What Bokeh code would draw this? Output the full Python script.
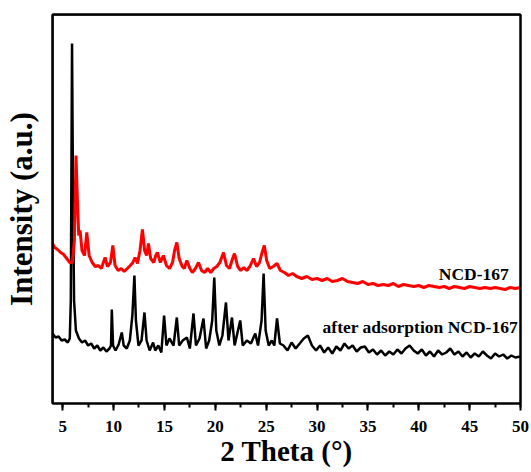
from bokeh.plotting import figure
from bokeh.models import Range1d, SingleIntervalTicker, Label, LinearAxis, Span
from bokeh.embed import file_html
from bokeh.resources import INLINE

# ---- data (2 Theta in degrees, intensity in a.u.) ----
black_x = [4.0, 4.3, 4.6, 4.9, 5.2, 5.5, 5.7, 5.8, 5.92, 6.02, 6.12, 6.3, 6.6, 6.9, 7.2, 7.5, 7.8, 8.1, 8.4, 8.7,
           9.0, 9.3, 9.6, 9.75, 9.83, 9.95, 10.2, 10.5, 10.81, 11.0, 11.3, 11.6, 11.85, 12.05, 12.2, 12.45, 12.75,
           13.04, 13.25, 13.55, 13.89, 14.1, 14.4, 14.7, 14.97, 15.2, 15.5, 15.9, 16.22, 16.45, 16.8, 17.21, 17.5,
           17.86, 18.1, 18.45, 18.84, 19.1, 19.4, 19.7, 19.9, 20.1, 20.4, 20.7, 21.05, 21.3, 21.64, 21.9, 22.45,
           22.7, 23.1, 23.5, 23.93, 24.2, 24.55, 24.75, 24.95, 25.25, 25.55, 25.8, 26.07, 26.35, 26.7, 27.1, 27.5,
           27.9, 28.3, 28.7, 29.1, 29.5, 29.9, 30.3, 30.7, 31.1, 31.5, 31.9, 32.3, 32.7, 33.1, 33.5, 33.9, 34.3,
           34.7, 35.1, 35.5, 35.9, 36.3, 36.7, 37.1, 37.5, 37.9, 38.3, 38.7, 39.1, 39.5, 39.9, 40.3, 40.7, 41.1,
           41.5, 41.9, 42.3, 42.7, 43.1, 43.5, 43.9, 44.3, 44.7, 45.1, 45.5, 45.9, 46.3, 46.7, 47.1, 47.5, 47.9,
           48.3, 48.7, 49.1, 49.5, 50.0]
black_y = [70, 66, 67, 63, 64, 61, 65, 103, 360, 203, 103, 73, 65, 61, 63, 58, 60, 55, 58, 53,
           56, 52, 55, 58, 94, 58, 53, 59, 71, 58, 55, 63, 88, 128, 83, 58, 63,
           91, 63, 53, 61, 53, 58, 51, 88, 58, 65, 58, 86, 58, 63, 66, 55,
           90, 58, 65, 85, 55, 63, 83, 126, 73, 58, 68, 101, 63, 86, 58, 83,
           58, 63, 60, 70, 58, 83, 130, 73, 58, 63, 58, 85, 60, 58, 53, 61,
           55, 60, 65, 68, 58, 53, 58, 51, 56, 50, 57, 53, 60, 55, 58, 52, 56,
           57, 51, 54, 49, 53, 48, 52, 49, 54, 50, 55, 58, 53, 50, 54, 48, 52,
           47, 53, 49, 51, 55, 49, 52, 47, 51, 46, 50, 47, 52, 48, 45, 50, 47,
           49, 45, 48, 46, 47]

red_x = [4.0, 4.2, 4.5, 4.8, 5.1, 5.4, 5.7, 5.95, 6.15, 6.31, 6.45, 6.58, 6.71, 6.9, 7.15, 7.37, 7.6, 7.9, 8.2,
         8.5, 8.8, 9.0, 9.17, 9.4, 9.7, 9.93, 10.15, 10.45, 10.75, 11.05, 11.35, 11.65, 11.9, 12.12, 12.35, 12.6,
         12.84, 13.05, 13.25, 13.43, 13.65, 13.95, 14.15, 14.31, 14.6, 14.9, 15.2, 15.5, 15.8, 16.0, 16.22, 16.45,
         16.75, 16.95, 17.21, 17.5, 17.75, 18.05, 18.35, 18.65, 18.95, 19.25, 19.55, 19.85, 20.15, 20.45, 20.81,
         21.1, 21.4, 21.7, 21.89, 22.2, 22.5, 22.8, 23.1, 23.4, 23.76, 24.05, 24.35, 24.6, 24.82, 25.05, 25.35,
         25.7, 26.07, 26.4, 26.8, 27.2, 27.6, 28.0, 28.5, 29.0, 29.5, 30.0, 30.5, 31.0, 31.5, 32.0, 32.5, 33.0,
         33.5, 34.0, 34.5, 35.0, 35.5, 36.0, 36.5, 37.0, 37.5, 38.0, 38.5, 39.0, 39.5, 40.0, 40.5, 41.0, 41.5,
         42.0, 42.5, 43.0, 43.5, 44.0, 44.5, 45.0, 45.5, 46.0, 46.5, 47.0, 47.5, 48.0, 48.5, 49.0, 49.5, 50.0]
red_y = [160, 156, 154, 151, 149, 145, 141, 141, 163, 248, 203, 168, 173, 153, 148, 171, 148, 141, 137,
         138, 135, 141, 146, 137, 141, 158, 138, 133, 135, 132, 135, 138, 141, 146, 140, 153,
         174, 153, 148, 160, 145, 141, 148, 151, 141, 148, 138, 135, 141, 153, 161, 145,
         137, 135, 143, 135, 131, 135, 141, 133, 131, 135, 131, 135, 137, 141, 151,
         138, 135, 145, 150, 137, 133, 136, 133, 137, 145, 137, 141, 151, 158, 143, 135,
         137, 140, 133, 131, 128, 130, 127, 125, 127, 124, 125, 123, 125, 122, 123, 125, 122,
         121, 120, 122, 119, 120, 118, 119, 118, 120, 117, 119, 118, 117, 118, 116, 118, 117,
         116, 117, 115, 117, 116, 115, 117, 116, 115, 116, 115, 116, 115, 114, 116, 115, 116]

x_ticks_major = 5
x_limits = (4, 50)
y_limits = (0, 389)
label_red = "NCD-167"
label_black = "after adsorption NCD-167"
y_title = "Intensity (a.u.)"
x_title = "2 Theta (°)"

SERIF = "Liberation Serif"

p = figure(width=531, height=472, output_backend="svg", toolbar_location=None,
           x_range=Range1d(*x_limits), y_range=Range1d(*y_limits),
           min_border_left=52, min_border_right=11, min_border_top=14, min_border_bottom=69)

p.line(black_x, black_y, line_color="black", line_width=2.5)
p.line(red_x, red_y, line_color="#ff0000", line_width=3)

p.add_layout(Label(x=48.85, y=130, text=label_red, text_align="right", text_baseline="alphabetic",
                   text_font=SERIF, text_font_style="bold", text_font_size="17.5px", text_color="black"))
p.add_layout(Label(x=49.75, y=77, text=label_black, text_align="right", text_baseline="alphabetic",
                   text_font=SERIF, text_font_style="bold", text_font_size="17.5px", text_color="black"))

p.xgrid.visible = False
p.ygrid.visible = False
p.outline_line_color = "black"
p.outline_line_width = 2
p.outline_line_alpha = 1

# frame edges on the left and top
p.add_layout(Span(location=x_limits[0], dimension="height", line_color="black", line_width=2))
p.add_layout(Span(location=y_limits[1], dimension="width", line_color="black", line_width=2))

xa = p.below[0]
ya = p.left[0]


def plain_axis(ax):
    # axis line only: ticks and their labels hidden
    ax.axis_line_width = 2
    ax.axis_line_color = "black"
    ax.major_tick_line_color = None
    ax.minor_tick_line_color = None
    ax.major_tick_out = 0
    ax.major_tick_in = 0
    ax.minor_tick_out = 0
    ax.minor_tick_in = 0
    ax.major_label_standoff = 0
    ax.major_label_text_font_size = "0px"
    ax.major_label_text_alpha = 0


# frame borders on the top and right
top_axis = LinearAxis()
plain_axis(top_axis)
p.add_layout(top_axis, "above")
right_axis = LinearAxis()
plain_axis(right_axis)
p.add_layout(right_axis, "right")

xa.ticker = SingleIntervalTicker(interval=x_ticks_major, num_minor_ticks=2)
xa.axis_line_width = 2
xa.major_tick_line_width = 2
xa.minor_tick_line_width = 2
xa.major_tick_in = 0
xa.major_tick_out = 7
xa.minor_tick_in = 0
xa.minor_tick_out = 4
xa.major_label_standoff = 10
xa.major_label_text_font = SERIF
xa.major_label_text_font_style = "bold"
xa.major_label_text_font_size = "17px"
xa.major_label_text_color = "black"
xa.axis_label = x_title
xa.axis_label_text_font = SERIF
xa.axis_label_text_font_style = "bold"
xa.axis_label_text_font_size = "29px"
xa.axis_label_text_color = "black"
xa.axis_label_standoff = 0

plain_axis(ya)
ya.axis_label = y_title
ya.axis_label_text_font = SERIF
ya.axis_label_text_font_style = "bold"
ya.axis_label_text_font_size = "31px"
ya.axis_label_text_color = "black"
ya.axis_label_standoff = 14

open("out.html", "w").write(file_html(p, INLINE))
